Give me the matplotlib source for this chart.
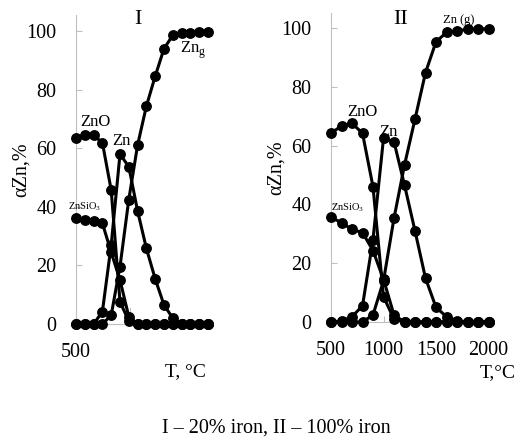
import matplotlib
matplotlib.use('Agg')
import matplotlib.pyplot as plt

plt.rcParams['font.family'] = ['Liberation Serif', 'DejaVu Serif']

# temperatures, deg C
T = [500, 600, 700, 800, 900, 1000, 1100, 1200, 1300, 1400, 1500, 1600, 1700, 1800, 1900, 2000]

# panel I - 20% iron
zno_1 = [63.5, 64.4, 64.4, 61.9, 45.7, 7.6, 1.0, 0, 0, 0, 0, 0, 0, 0, 0, 0]
znsio3_1 = [36.3, 35.5, 35.2, 34.4, 24.5, 15.0, 2.5, 0, 0, 0, 0, 0, 0, 0, 0, 0]
zn_1 = [0, 0, 0, 4.2, 27.0, 58.0, 53.7, 38.6, 25.8, 15.4, 6.5, 2.0, 0, 0, 0, 0]
zng_1 = [0, 0, 0, 0, 3.0, 19.6, 42.5, 61.1, 74.4, 84.6, 94.0, 98.6, 99.2, 99.5, 99.6, 99.6]

# panel II - 100% iron
zno_2 = [64.2, 66.7, 67.6, 64.2, 46.0, 8.6, 1.0, 0, 0, 0, 0, 0, 0, 0, 0, 0]
znsio3_2 = [35.6, 33.8, 31.5, 30.4, 24.3, 14.5, 2.4, 0, 0, 0, 0, 0, 0, 0, 0, 0]
zn_2 = [0, 0.3, 1.8, 5.5, 28.0, 62.5, 61.3, 46.6, 31.0, 14.9, 5.0, 1.8, 0.5, 0, 0, 0]
zng_2 = [0, 0, 0, 0, 2.4, 14.0, 35.3, 53.4, 69.0, 84.8, 95.3, 98.5, 99.1, 99.5, 99.7, 99.7]

W, H = 515, 445
gray = '#BFBFBF'


def fx(x):
    return x / W


def fy(y):
    return 1 - y / H


fig = plt.figure(figsize=(5.15, 4.45), dpi=100)

# axes boxes in pixels
ax1 = fig.add_axes([fx(76), fy(324), 132 / W, (324 - 15) / H])
ax2 = fig.add_axes([fx(331), fy(322), 157.5 / W, (322 - 13) / H])

for ax, series in [(ax1, [zno_1, znsio3_1, zn_1, zng_1]),
                   (ax2, [zno_2, znsio3_2, zn_2, zng_2])]:
    for s in series:
        ax.plot(T, s, color='black', lw=2.2, marker='o', ms=6.8, clip_on=False, zorder=3)
    ax.set_xlim(500, 2000)
    ax.set_yticks([0, 20, 40, 60, 80, 100])
    for side in ['top', 'right']:
        ax.spines[side].set_visible(False)
    ax.spines['left'].set_color(gray)
    ax.spines['bottom'].set_color(gray)
    ax.tick_params(axis='both', direction='in', color=gray, length=4.5, labelsize=14.5, pad=14)
    ax.patch.set_alpha(0)

ax1.set_ylim(0, 105.5)
ax2.set_ylim(0, 105.1)

ax1.set_xticks([500])
ax1.spines['bottom'].set_bounds(500, 1115)
ax1.plot([1115, 1115], [0, 5.5], color=gray, lw=0.8, clip_on=False, zorder=1)
ax2.set_xticks([500, 1000, 1500, 2000])

# axis labels
fig.text(fx(21), fy(170), 'αZn,%', rotation=90, ha='center', va='center', fontsize=14.5)
fig.text(fx(276), fy(168), 'αZn,%', rotation=90, ha='center', va='center', fontsize=14.5)
fig.text(fx(185), fy(372), 'T, °C', ha='center', va='center', fontsize=14)
fig.text(fx(516), fy(373), 'T,°C', ha='right', va='center', fontsize=14)

# panel titles
fig.text(fx(138), fy(19), 'I', ha='center', va='center', fontsize=16)
fig.text(fx(401), fy(19), 'II', ha='center', va='center', fontsize=16)

# curve labels
fig.text(fx(95), fy(122), 'ZnO', ha='center', va='center', fontsize=12)
fig.text(fx(121), fy(141), 'Zn', ha='center', va='center', fontsize=12)
fig.text(fx(193), fy(50), 'Zn$_\\mathregular{g}$', ha='center', va='center', fontsize=12)
fig.text(fx(85), fy(207), 'ZnSiO$_\\mathregular{3}$', ha='center', va='center', fontsize=7.5)

fig.text(fx(362), fy(112), 'ZnO', ha='center', va='center', fontsize=12)
fig.text(fx(388), fy(132), 'Zn', ha='center', va='center', fontsize=12)
fig.text(fx(459), fy(20), 'Zn (g)', ha='center', va='center', fontsize=9)
fig.text(fx(348), fy(208), 'ZnSiO$_\\mathregular{3}$', ha='center', va='center', fontsize=7.5)

# caption
fig.text(fx(276), fy(428), 'I – 20% iron, II – 100% iron', ha='center', va='center', fontsize=14.5)

fig.savefig('out.png', dpi=100)
